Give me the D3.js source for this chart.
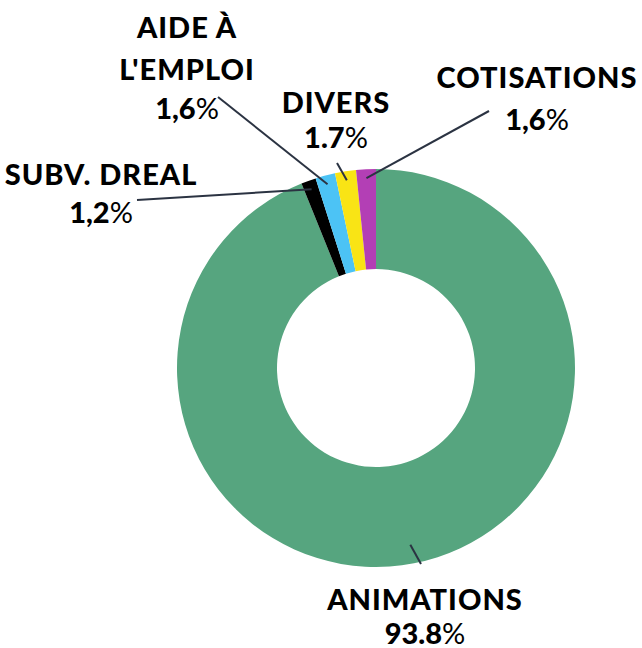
<!DOCTYPE html>
<html><head><meta charset="utf-8">
<script src="https://cdn.jsdelivr.net/npm/d3@7"></script>
<style>
html,body{margin:0;padding:0;background:#fff;}
svg{display:block;}
text{font-family:Lato,"Noto Sans",sans-serif;font-weight:900;fill:#000;}
</style></head><body>
<svg id="c" width="642" height="648"></svg>
<script>
const categories = ["ANIMATIONS", "SUBV. DREAL", "AIDE À L'EMPLOI", "DIVERS", "COTISATIONS"];
const values = [93.8, 1.2, 1.6, 1.7, 1.6];
const valueLabels = ["93.8", "1,2", "1,6", "1.7", "1,6"];
const colors = ["#56A57F", "#000000", "#4CC3F5", "#F9E415", "#B33FB5"];

// layout: label lines, anchor x, baselines, leader outer end
const layout = [
  {lines:["ANIMATIONS"], x:425, y:[610, 644], end:[421,564], r:180},
  {lines:["SUBV. DREAL"], x:101, y:[185, 223], end:[137,200], r:190},
  {lines:["AIDE À","L'EMPLOI"], x:187, y:[38, 80, 119], end:[218,97], r:190},
  {lines:["DIVERS"], x:336, y:[113, 148], end:[337,163], r:190},
  {lines:["COTISATIONS"], x:537, y:[88, 130], end:[489,111], r:190}
];

const svg = d3.select("#c");
const cx = 376, cy = 368, R = 199, r0 = 99;
const g = svg.append("g").attr("transform", `translate(${cx},${cy})`);

const pie = d3.pie().sort(null).value(d => d)(values);
const arc = d3.arc().innerRadius(r0).outerRadius(R);

g.selectAll("path").data(pie).join("path")
  .attr("d", arc).attr("fill", (d,i) => colors[i]);

pie.forEach((d, i) => {
  const L = layout[i];
  const a = (d.startAngle + d.endAngle) / 2;
  const px = Math.sin(a) * L.r, py = -Math.cos(a) * L.r;
  g.append("line")
    .attr("x1", px).attr("y1", py)
    .attr("x2", L.end[0] - cx).attr("y2", L.end[1] - cy)
    .attr("stroke", "#2b3342").attr("stroke-width", 2);
  L.lines.forEach((t, k) => {
    svg.append("text").attr("x", L.x).attr("y", L.y[k])
      .attr("text-anchor", "middle").attr("font-size", 29)
      .attr("letter-spacing", 1).text(t);
  });
  const tv = svg.append("text").attr("x", L.x).attr("y", L.y[L.lines.length])
    .attr("text-anchor", "middle").attr("font-size", 29);
  tv.append("tspan").text(valueLabels[i]);
  tv.append("tspan").attr("font-weight", 400).text("%");
});
</script>
</body></html>
